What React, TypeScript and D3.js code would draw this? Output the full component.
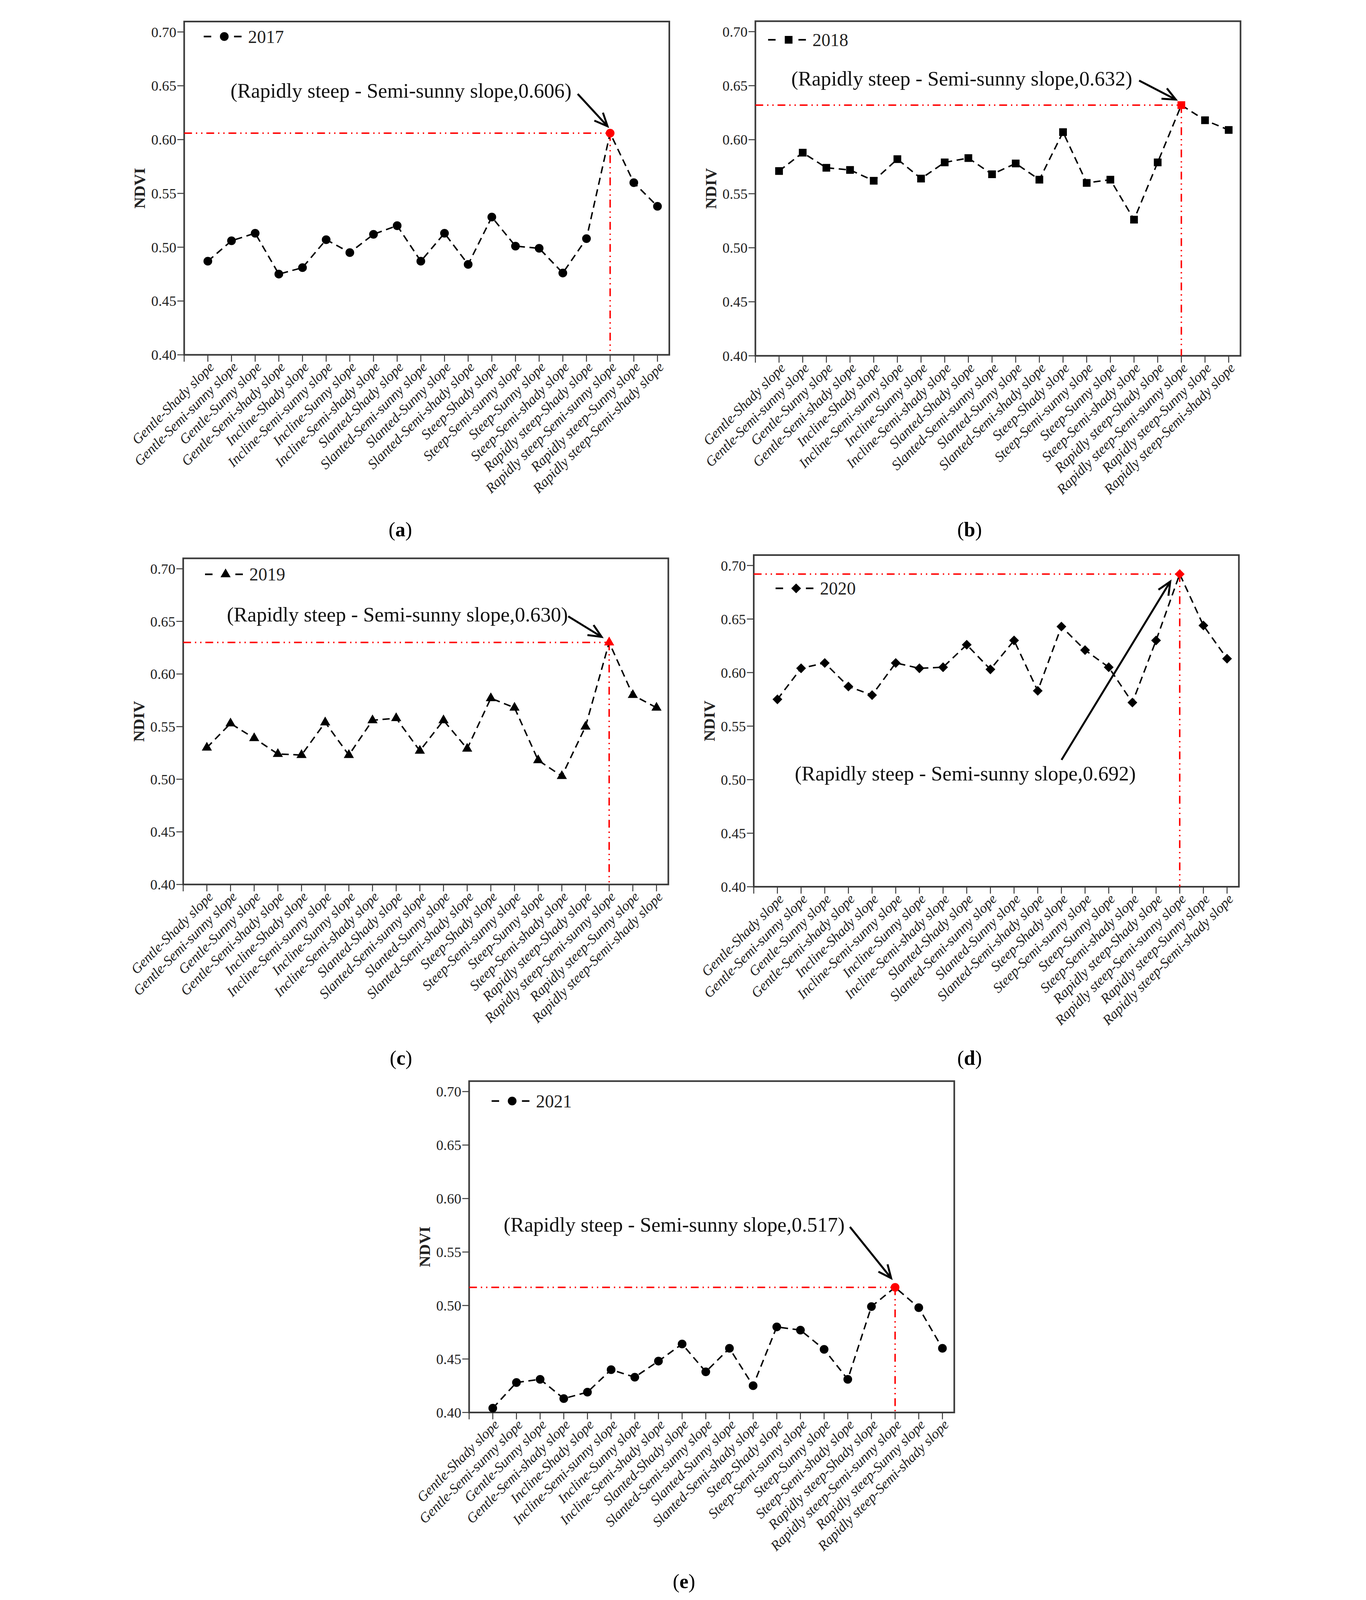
import React from 'react';
import * as d3 from 'd3';

// slope-aspect categories (x axis)
const categories = [
  'Gentle-Shady slope', 'Gentle-Semi-sunny slope', 'Gentle-Sunny slope', 'Gentle-Semi-shady slope',
  'Incline-Shady slope', 'Incline-Semi-sunny slope', 'Incline-Sunny slope', 'Incline-Semi-shady slope',
  'Slanted-Shady slope', 'Slanted-Semi-sunny slope', 'Slanted-Sunny slope', 'Slanted-Semi-shady slope',
  'Steep-Shady slope', 'Steep-Semi-sunny slope', 'Steep-Sunny slope', 'Steep-Semi-shady slope',
  'Rapidly steep-Shady slope', 'Rapidly steep-Semi-sunny slope', 'Rapidly steep-Sunny slope', 'Rapidly steep-Semi-shady slope',
];

const ndvi2017 = [0.487, 0.506, 0.513, 0.475, 0.481, 0.507, 0.495, 0.512, 0.520, 0.487, 0.513, 0.484, 0.528, 0.501, 0.499, 0.476, 0.508, 0.606, 0.560, 0.538];
const ndvi2018 = [0.571, 0.588, 0.574, 0.572, 0.562, 0.582, 0.564, 0.579, 0.583, 0.568, 0.578, 0.563, 0.607, 0.560, 0.563, 0.526, 0.579, 0.632, 0.618, 0.609];
const ndvi2019 = [0.530, 0.553, 0.539, 0.524, 0.523, 0.554, 0.523, 0.556, 0.558, 0.527, 0.556, 0.529, 0.577, 0.568, 0.518, 0.503, 0.550, 0.630, 0.580, 0.568];
const ndvi2020 = [0.575, 0.604, 0.609, 0.587, 0.579, 0.609, 0.604, 0.605, 0.626, 0.603, 0.630, 0.583, 0.643, 0.621, 0.605, 0.572, 0.630, 0.692, 0.644, 0.613];
const ndvi2021 = [0.404, 0.428, 0.431, 0.413, 0.419, 0.440, 0.433, 0.448, 0.464, 0.438, 0.460, 0.425, 0.480, 0.477, 0.459, 0.431, 0.499, 0.517, 0.498, 0.460];

const years = ['2017', '2018', '2019', '2020', '2021'];
const seriesValues = [ndvi2017, ndvi2018, ndvi2019, ndvi2020, ndvi2021];
const shapes = ['circle', 'square', 'triangle', 'diamond', 'circle'];
const yLabels = ['NDVI', 'NDIV', 'NDIV', 'NDIV', 'NDVI'];
const panelTags = ['a', 'b', 'c', 'd', 'e'];
const yTicks = [0.40, 0.45, 0.50, 0.55, 0.60, 0.65, 0.70];
const peakIndex = 17;

// panel placement in the page (frame left/top, y of 0.40 line) and annotation offsets
const layout = [
  { left: 219, top: 66, bottom: 1088, legend: [60, 46], note: [142, 234], from: [1207, 222], tip: [-8, -21], tag: [882, 1645] },
  { left: 1971, top: 65, bottom: 1091, legend: [39, 57], note: [110, 197], from: [1177, 182], tip: [-17, -17], tag: [2628, 1645] },
  { left: 216, top: 1712, bottom: 2712, legend: [67, 49], note: [134, 194], from: [1181, 178], tip: [-23, -17], tag: [884, 3265] },
  { left: 1966, top: 1702, bottom: 2719, legend: [67, 102], note: [126, 691], from: [944, 628], tip: [-29, 23], tag: [2628, 3265] },
  { left: 1093, top: 3315, bottom: 4331, legend: [69, 61], note: [106, 462], from: [1168, 447], tip: [-12, -28], tag: [1752, 4870] },
];

const FONT = '"Liberation Serif", "Times New Roman", serif';
const W = 1488;

const symbolPath = (shape: string) => {
  if (shape === 'square') return d3.symbol(d3.symbolSquare, 560)()!;
  if (shape === 'triangle') return d3.symbol(d3.symbolTriangle, 420)()!;
  if (shape === 'diamond') return d3.symbol(d3.symbolSquare, 450)()!;
  return d3.symbol(d3.symbolCircle, 560)()!;
};

const Marker = ({ shape, x, y, fill }: { shape: string; x: number; y: number; fill: string }) => (
  <path
    d={symbolPath(shape)}
    transform={`translate(${x},${y})${shape === 'diamond' ? ' rotate(45)' : ''}`}
    fill={fill}
  />
);

const Panel = ({ i }: { i: number }) => {
  const L = layout[i];
  const values = seriesValues[i];
  const shape = shapes[i];
  const x = d3.scaleLinear().domain([0, 20.5]).range([L.left, L.left + W]);
  const y = d3.scaleLinear().domain([0.40, 0.70]).range([L.bottom, L.top + 32]);
  const line = d3.line<number>().x((_, k) => x(k + 1)).y((d) => y(d));
  const px = x(peakIndex + 1);
  const py = y(values[peakIndex]);
  const peak = values[peakIndex].toFixed(3);

  // arrow
  const ax0 = L.left + L.from[0];
  const ay0 = L.top + L.from[1];
  const ax1 = px + L.tip[0];
  const ay1 = py + L.tip[1];
  const ang = Math.atan2(ay1 - ay0, ax1 - ax0);
  const head = 44;
  const spread = 0.42;
  const arm = (s: number) => [ax1 - head * Math.cos(ang + s), ay1 - head * Math.sin(ang + s)];
  const [h1x, h1y] = arm(spread);
  const [h2x, h2y] = arm(-spread);

  const lx = L.left + L.legend[0];
  const ly = L.top + L.legend[1];

  return (
    <g>
      {/* frame */}
      <rect x={L.left} y={L.top} width={W} height={L.bottom - L.top} fill="none" stroke="#3a3a3a" strokeWidth={5} />
      {/* y ticks */}
      {yTicks.map((t) => (
        <g key={t}>
          <line x1={L.left - 21} x2={L.left} y1={y(t)} y2={y(t)} stroke="#3a3a3a" strokeWidth={3} />
          <text x={L.left - 24} y={y(t)} dy="0.35em" textAnchor="end" fontSize={44} fontFamily={FONT} fill="#222">
            {t.toFixed(2)}
          </text>
        </g>
      ))}
      <text
        transform={`translate(${L.left - 120},${(L.top + L.bottom) / 2}) rotate(-90)`}
        textAnchor="middle"
        fontSize={49}
        fontWeight="bold"
        fontFamily={FONT}
        fill="#222"
      >
        {yLabels[i]}
      </text>
      {/* x ticks */}
      {[0, ...categories.map((_, k) => k + 1)].map((k) => (
        <line key={k} x1={x(k)} x2={x(k)} y1={L.bottom} y2={L.bottom + 21} stroke="#3a3a3a" strokeWidth={3} />
      ))}
      {categories.map((c, k) => (
        <text
          key={c}
          transform={`translate(${x(k + 1) + 22},${L.bottom + 40}) rotate(-45)`}
          textAnchor="end"
          fontSize={43}
          fontStyle="italic"
          fontFamily={FONT}
          fill="#222"
        >
          {c}
        </text>
      ))}
      {/* red guide lines */}
      <line x1={L.left} x2={px} y1={py} y2={py} stroke="#ff0000" strokeWidth={4.5} strokeDasharray="24,12,4,12,4,12" />
      <line x1={px} x2={px} y1={py} y2={L.bottom} stroke="#ff0000" strokeWidth={4.5} strokeDasharray="24,12,4,12,4,12" />
      {/* series */}
      <path d={line(values)!} fill="none" stroke="#000" strokeWidth={4.5} strokeDasharray="22,14" />
      {values.map((v, k) => (
        <Marker key={k} shape={shape} x={x(k + 1)} y={y(v)} fill={k === peakIndex ? '#ff0000' : '#000'} />
      ))}
      {/* legend */}
      <line x1={lx} x2={lx + 23} y1={ly} y2={ly} stroke="#000" strokeWidth={5} />
      <Marker shape={shape} x={lx + 63} y={ly} fill="#000" />
      <line x1={lx + 93} x2={lx + 116} y1={ly} y2={ly} stroke="#000" strokeWidth={5} />
      <text x={lx + 136} y={ly} dy="0.35em" fontSize={55} fontFamily={FONT} fill="#222">
        {years[i]}
      </text>
      {/* annotation */}
      <text x={L.left + L.note[0]} y={L.top + L.note[1]} fontSize={63} fontFamily={FONT} fill="#111">
        {`(Rapidly steep - Semi-sunny slope,${peak})`}
      </text>
      <line x1={ax0} y1={ay0} x2={ax1} y2={ay1} stroke="#000" strokeWidth={6} />
      <polyline
        points={`${h1x},${h1y} ${ax1},${ay1} ${h2x},${h2y}`}
        fill="none"
        stroke="#000"
        strokeWidth={6}
        strokeLinejoin="miter"
      />
      {/* panel tag */}
      <text x={L.tag[0]} y={L.tag[1]} textAnchor="middle" fontSize={62} fontFamily={FONT} fill="#000">
        (<tspan fontWeight="bold">{panelTags[i]}</tspan>)
      </text>
    </g>
  );
};

export default function App() {
  // the visible page is shorter than the 4906px figure, so the svg is fitted to the viewport
  return (
    <svg
      viewBox="0 0 3498 4906"
      preserveAspectRatio="xMidYMid meet"
      style={{ position: 'fixed', left: 0, top: 0, width: '100vw', height: '100vh', background: '#fff' }}
    >
      <rect width={3498} height={4906} fill="#fff" />
      {years.map((_, i) => (
        <Panel key={i} i={i} />
      ))}
    </svg>
  );
}
